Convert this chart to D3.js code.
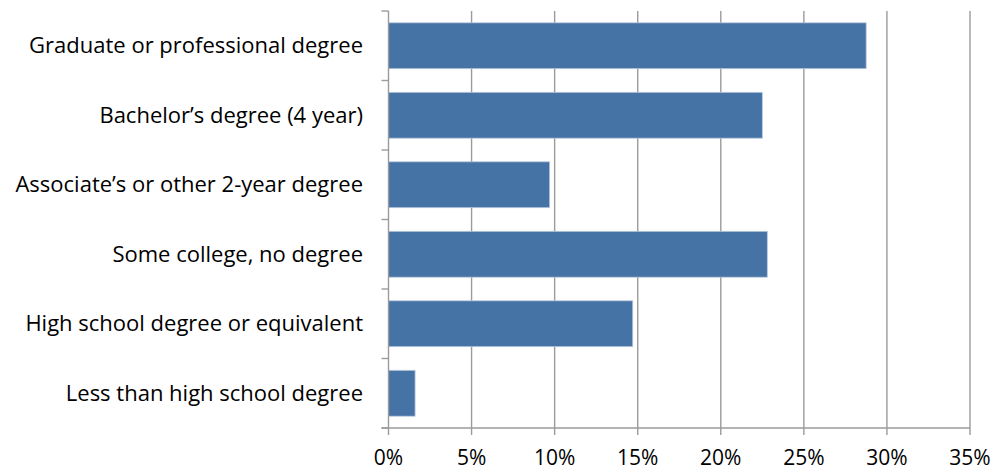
<!DOCTYPE html>
<html>
<head>
<meta charset="utf-8">
<script src="https://cdn.jsdelivr.net/npm/d3@7"></script>
<style>
body{margin:0;background:#fff;}
text{font-family:"Open Sans",sans-serif;fill:#000;}
</style>
</head>
<body>
<svg id="svg" width="997" height="473"></svg>
<script>
const categories=["Graduate or professional degree","Bachelor\u2019s degree (4 year)","Associate\u2019s or other 2-year degree","Some college, no degree","High school degree or equivalent","Less than high school degree"];
const values=[28.75,22.5,9.7,22.8,14.7,1.6];
const tickValues=[0,5,10,15,20,25,30,35];

const plotLeft=388.5, plotRight=970, plotTop=11, plotBottom=428;
const barColor="#4573a5";
const gridColor="#9b9b9b";

var svg=d3.select("#svg");

var x=d3.scaleLinear().domain([0,35]).range([plotLeft,plotRight]);
var y=d3.scaleBand().domain(categories).range([plotTop,plotBottom]).paddingInner(0.34).paddingOuter(0.17);

//gridlines (extend below axis as tick marks)
svg.append("g").selectAll("line")
    .data(tickValues.slice(1)).enter().append("line")
        .attr("x1",d=>x(d)).attr("x2",d=>x(d))
        .attr("y1",plotTop).attr("y2",plotBottom+7)
        .attr("stroke",gridColor)
        .attr("stroke-width",1.4)

//bars
svg.append("g").selectAll("rect")
    .data(values).enter().append("rect")
        .attr("x",x(0))
        .attr("y",(d,i)=>y(categories[i]))
        .attr("width",d=>x(d)-x(0))
        .attr("height",y.bandwidth())
        .attr("fill",barColor)
        .attr("stroke","#b8c8dc")
        .attr("stroke-width",0.8)

//y axis line + band ticks
var bandEdges=categories.map(c=>y(c)-y.step()*y.paddingInner()/2).concat([plotBottom]);
bandEdges[0]=plotTop;
svg.append("line")
    .attr("x1",plotLeft).attr("x2",plotLeft)
    .attr("y1",plotTop).attr("y2",plotBottom+7)
    .attr("stroke",gridColor).attr("stroke-width",1.4)
svg.append("g").selectAll("line")
    .data(bandEdges).enter().append("line")
        .attr("x1",plotLeft-7).attr("x2",plotLeft)
        .attr("y1",d=>d).attr("y2",d=>d)
        .attr("stroke",gridColor).attr("stroke-width",1.4)

//x axis line
svg.append("line")
    .attr("x1",plotLeft-7).attr("x2",plotRight)
    .attr("y1",plotBottom).attr("y2",plotBottom)
    .attr("stroke",gridColor).attr("stroke-width",1.4)

//x tick labels
svg.append("g").selectAll("text")
    .data(tickValues).enter().append("text")
        .attr("x",d=>x(d))
        .attr("y",465)
        .attr("text-anchor","middle")
        .style("font-size","21px")
        .text(d=>d+"%")

//category labels
svg.append("g").selectAll("text")
    .data(categories).enter().append("text")
        .attr("x",363)
        .attr("y",c=>y(c)+y.bandwidth()/2)
        .attr("dy","0.35em")
        .attr("text-anchor","end")
        .style("font-size","22px")
        .text(d=>d)
</script>
</body>
</html>
